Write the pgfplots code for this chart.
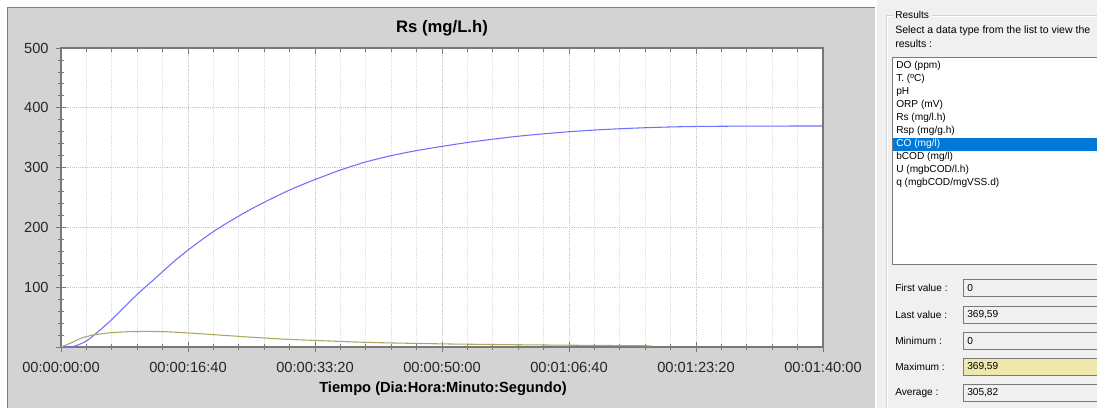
\documentclass[border=0pt]{standalone}
\usepackage{fontspec}
\setmainfont{Liberation Sans}
\usepackage{pgfplots}
\pgfplotsset{compat=1.18}
\definecolor{panelgray}{RGB}{211,211,211}
\definecolor{rsblue}{RGB}{112,112,250}
\definecolor{oliveline}{RGB}{172,166,96}
\definecolor{formbg}{RGB}{240,240,240}
\definecolor{selblue}{RGB}{0,120,215}
\definecolor{maxfill}{RGB}{238,232,170}
\definecolor{boxborder}{RGB}{122,122,122}
\definecolor{axisgray}{RGB}{120,120,120}
\newcommand{\uifont}{\fontsize{7.6}{9}\selectfont}
\newcommand{\chfont}{\fontsize{11}{13}\selectfont}
\tikzset{ui/.style={font=\uifont, anchor=west, inner sep=0pt}}
\begin{document}
\begin{tikzpicture}
\begin{scope}[x=0.75pt,y=-0.75pt]
\useasboundingbox (0,0) rectangle (1097,408);
\fill[white] (0,0) rectangle (1097,408);
% chart panel
\fill[panelgray] (7,7) rectangle (875,408);
\draw[gray, line width=0.75pt] (7.5,408) -- (7.5,7.5) -- (875,7.5);
\node[font=\fontsize{12.5}{14}\selectfont\bfseries] at (442,28) {Rs (mg/L.h)};
\node[font=\chfont\bfseries] at (443,389) {Tiempo (Dia:Hora:Minuto:Segundo)};
% right panel
\fill[formbg] (876.5,0) rectangle (1097,408);
\draw[gray!35, line width=0.75pt] (886.5,408) -- (886.5,15.5) -- (893,15.5);
\draw[white, line width=0.75pt] (887.5,408) -- (887.5,16.5) -- (893,16.5);
\draw[gray!35, line width=0.75pt] (932,15.5) -- (1097,15.5);
\draw[white, line width=0.75pt] (932,16.5) -- (1097,16.5);
\node[ui] at (895,15) {Results};
\node[ui, font=\fontsize{7.9}{9}\selectfont] at (895,31) {Select a data type from the list to view the};
\node[ui, font=\fontsize{7.9}{9}\selectfont] at (895,44) {results :};
\fill[white] (892,57) rectangle (1097,265);
\draw[boxborder, line width=0.75pt] (1097,57.5) -- (892.5,57.5) -- (892.5,264.5) -- (1097,264.5);
\fill[selblue] (893,137.5) rectangle (1097,150.5);
\node[ui] at (896,66) {DO (ppm)};
\node[ui] at (896,79) {T. (ºC)};
\node[ui] at (896,92) {pH};
\node[ui] at (896,105) {ORP (mV)};
\node[ui] at (896,118) {Rs (mg/l.h)};
\node[ui] at (896,131) {Rsp (mg/g.h)};
\node[ui, text=white] at (896,144) {CO (mg/l)};
\node[ui] at (896,157) {bCOD (mg/l)};
\node[ui] at (896,170) {U (mgbCOD/l.h)};
\node[ui] at (896,183) {q (mgbCOD/mgVSS.d)};
% value fields
\fill[formbg] (963,279) rectangle (1097,297);
\fill[formbg] (963,306) rectangle (1097,324);
\fill[formbg] (963,332) rectangle (1097,350);
\fill[maxfill] (963,358) rectangle (1097,376);
\fill[formbg] (963,384) rectangle (1097,402);
\foreach \ya in {279,306,332,358,384}
  \draw[boxborder, line width=0.75pt] (1097,\ya+0.5) -- (963.5,\ya+0.5) -- (963.5,\ya+17.5) -- (1097,\ya+17.5);
\node[ui] at (895,288) {First value :};
\node[ui] at (895,315) {Last value :};
\node[ui] at (895,341) {Minimum :};
\node[ui] at (895,367) {Maximum :};
\node[ui] at (895,393) {Average :};
\node[ui] at (967,288) {0};
\node[ui] at (967,315) {369,59};
\node[ui] at (967,341) {0};
\node[ui] at (967,367) {369,59};
\node[ui] at (967,393) {305,82};
\end{scope}
\begin{axis}[
  at={(45.75pt,-260.25pt)}, anchor=south west,
  scale only axis, width=571.5pt, height=224.25pt,
  xmin=0, xmax=6000, ymin=0, ymax=500,
  axis background/.style={fill=white},
  xtick={0,1000,...,6000},
  xticklabels={00:00:00:00,00:00:16:40,00:00:33:20,00:00:50:00,00:01:06:40,00:01:23:20,00:01:40:00},
  ytick={0,100,...,500},
  yticklabels={,100,200,300,400,500},
  minor x tick num=4, minor y tick num=4,
  xtick pos=bottom, ytick pos=left,
  tick align=center,
  major tick length=7.5pt, minor tick length=4.5pt,
  tick style={axisgray, line width=0.6pt},
  axis line style={axisgray, line width=0.9pt},
  xmajorgrids, xminorgrids, ymajorgrids,
  major grid style={densely dotted, gray!45, line width=0.5pt},
  minor grid style={densely dotted, gray!25, line width=0.5pt},
  ticklabel style={font=\chfont, text=black!85},
  /pgf/number format/assume math mode=true,
  xticklabel style={yshift=-4pt},
  yticklabel style={xshift=-2pt},
]
\addplot[rsblue, line width=0.8pt, smooth, tension=0.4] coordinates {
(0,0) (100,1) (200,10) (300,27) (400,46) (500,67) (600,88) (700,107) (800,126)
(900,145) (1000,162) (1100,178) (1200,193) (1300,206.5) (1400,219) (1500,231)
(1600,242) (1700,252.5) (1800,262.5) (1900,271.5) (2000,280) (2200,296) (2400,309.5)
(2600,320) (2800,328.5) (3000,335.5) (3200,342) (3400,347.5) (3600,352.5) (3800,356.5)
(4000,360) (4200,362.8) (4400,365) (4600,366.7) (4800,368) (5000,368.8) (5400,369.4)
(6000,369.6)
};
\addplot[oliveline, line width=0.8pt, smooth, tension=0.4] coordinates {
(0,0) (80,7) (163,15) (262,20.5) (400,24) (550,25.8) (700,26) (820,25.6)
(1000,23.5) (1134,21.7) (1213,20.5) (1400,17.8) (1528,16) (1790,12.8) (2000,11)
(2315,8.4) (2600,6.8) (3076,5) (3500,4) (4000,3) (4650,2)
};
\end{axis}
\begin{axis}[
  at={(45.75pt,-260.25pt)}, anchor=south west,
  scale only axis, width=571.5pt, height=224.25pt,
  xmin=0, xmax=6000, ymin=0, ymax=500,
  xtick={0,1000,...,6000}, xticklabels={},
  minor x tick num=4,
  ytick=\empty,
  tick align=inside,
  major tick length=4.5pt, minor tick length=3pt,
  tick style={axisgray, line width=0.6pt},
  axis line style={axisgray, line width=0.9pt},
  axis x line*=top, axis y line*=right,
]
\end{axis}
\end{tikzpicture}
\end{document}
